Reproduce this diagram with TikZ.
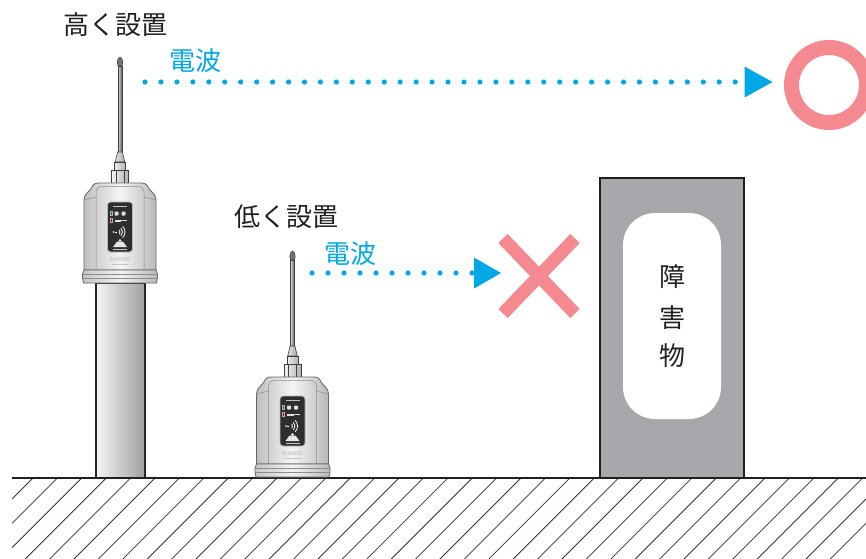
\documentclass[tikz,border=0pt]{standalone}
\usepackage{fontspec}
\setmainfont{Noto Sans CJK JP}
\usetikzlibrary{arrows.meta}

\definecolor{ink}{HTML}{231F20}
\definecolor{radio}{HTML}{00A9E6}
\definecolor{markpink}{HTML}{F48A90}
\definecolor{wallgray}{HTML}{A7A8AB}

\tikzset{
  lbl/.style={font=\fontsize{26}{26}\selectfont, text=ink, inner sep=0pt},
  wavelbl/.style={lbl, text=radio},
  radiolink/.style={draw=radio, line width=5.2pt, line cap=round,
    -{Triangle[length=28pt,width=31pt,line width=0pt]}},
  hatch/.style={draw=black!80, line width=0.8pt},
  metal/.style={draw=black!75, line width=0.6pt},
  shell/.style={draw=black!60, line width=0.8pt},
  seam/.style={draw=black!45, line width=0.5pt},
}

% one radio unit; #1,#2 = centre x and top of the housing, #3 = name prefix
\newcommand{\airunit}[3]{%
\begin{scope}[shift={(#1,#2)}]
  % antenna rod and tip
  \draw[metal, left color=gray!30, right color=black!65] (-1.9,-31) rectangle (1.9,-117);
  \draw[metal, fill=black!55] (-1.9,-117) -- (-2.6,-120)
     .. controls (-2.6,-124) and (-1,-126) .. (0,-126)
     .. controls (1,-126) and (2.6,-124) .. (2.6,-120) -- (1.9,-117) -- cycle;
  % collar and nut
  \draw[metal, left color=gray!20, right color=gray!70] (-2.4,-31) -- (-4.8,-21) -- (4.8,-21) -- (2.4,-31) -- cycle;
  \draw[metal, left color=gray!15, right color=gray!60] (-5.5,-21) rectangle (5.5,-13);
  \draw[metal, left color=gray!10, right color=gray!60] (-8.5,-13) rectangle (8.5,0);
  \draw[metal] (-4,-13) -- (-4,0) (4,-13) -- (4,0);
  % housing
  \draw[shell, left color=gray!50, right color=gray!55, middle color=gray!8]
     (-36,87) -- (-36,17) .. controls (-36,11) and (-31,9) .. (-28.5,5)
     .. controls (-27,1) and (-25,0) .. (-21,0) -- (21,0)
     .. controls (25,0) and (27,1) .. (28.5,5)
     .. controls (31,9) and (36,11) .. (36,17) -- (36,87) -- cycle;
  \draw[seam] (-24,87) -- (-24,9) .. controls (-24,5) and (-21,3.5) .. (-17,3.5)
     -- (17,3.5) .. controls (21,3.5) and (24,5) .. (24,9) -- (24,87);
  \draw[seam] (-36,17) -- (-24,14) (36,17) -- (24,14);
  % base ring
  \draw[shell, left color=gray!45, right color=gray!55, middle color=gray!10]
     (-36,87) -- (36,87) -- (37.5,91) -- (37.5,95) -- (36.5,100) -- (-36.5,100) -- (-37.5,95) -- (-37.5,91) -- cycle;
  \draw[seam] (-37.5,91) -- (37.5,91) (-37.5,95) -- (37.5,95);
  % front panel
  \draw[fill=black!82, draw=gray!55, line width=0.8pt, rounded corners=3pt] (-12.5,19) rectangle (12.5,69);
  \fill[gray!45] (-7,22.5) rectangle (7,23.6);
  \draw[fill=green!55!black, draw=gray!60, line width=0.3pt] (-10,28.5) rectangle (-8,32.5);
  \draw[fill=red!75!black, draw=gray!60, line width=0.3pt] (-10,35.5) rectangle (-8,39.5);
  \fill[gray!25, rounded corners=0.8pt] (-5.5,28.5) rectangle (-1.5,32.5);
  \fill[gray!25, rounded corners=0.8pt] (1.5,28.5) rectangle (5.5,32.5);
  \fill[gray!25] (-5.5,36.5) rectangle (1,38.5);
  \draw[gray!25, line width=0.6pt] (1,37.5) -- (7,37.5);
  \fill[white] (-6.5,49) circle (0.9);
  \draw[white, line width=0.8pt] (-5.5,49) -- (-3.5,49);
  \foreach \r in {3,5.5,8}
    \draw[white, line width=0.8pt] (-3,49) ++(-45:\r) arc[start angle=-45, end angle=45, radius=\r];
  \fill[gray!20] (-7,64) -- (-3,58.5) -- (3,58.5) -- (7,64) -- cycle;
  \fill[white] (0,57.5) circle (1.4);
  \fill[gray!40] (-7,65.5) rectangle (7,66.5);
  % maker mark
  \node[font=\fontsize{5.5}{5.5}\selectfont, text=gray!60, inner sep=0pt] (#3-logo) at (0,76) {AirGRID};
  \fill[gray!45] (-9,80.5) rectangle (9,82);
\end{scope}}

\begin{document}
\begin{tikzpicture}[x=1pt, y=-1pt]
  \useasboundingbox (0,0) rectangle (866,558);
  \clip (0,0) rectangle (866,558);

  % hatched ground
  \begin{scope}
    \clip (12,478) rectangle (866,558);
    \foreach \k in {-4,...,36}
      \draw[hatch] ({33+24.4*\k},478) -- ++(-90,90);
  \end{scope}

  % pole under the high unit
  \draw[line width=2pt, draw=black!85, left color=gray!8, right color=gray!75] (96,283) rectangle (145,478);

  % obstacle
  \draw[fill=wallgray, draw=ink, line width=2.5pt] (600,178) rectangle (744,478);
  \fill[white, rounded corners=32pt] (623,213) rectangle (721,419);
  \node[lbl] (obs1) at (672,277) {障};
  \node[lbl] (obs2) at (672,318) {害};
  \node[lbl] (obs3) at (672,356) {物};

  % ground line
  \draw[line width=2pt, draw=ink] (12,478) -- (866,478);

  % radio units
  \airunit{120}{183}{high}
  \airunit{292.5}{377}{low}

  % labels
  \node[lbl] (hightxt) at (115,24.5) {高く設置};
  \node[wavelbl] (highwave) at (195,61) {電波};
  \node[lbl] (lowtxt) at (286.5,216.5) {低く設置};
  \node[wavelbl] (lowwave) at (350,253.5) {電波};

  % result marks
  \node[circle, draw=markpink, line width=15pt, minimum size=75pt, inner sep=0pt] (okmark) at (829,85) {};
  \coordinate (ngmark) at (539,276);
  \draw[markpink, line width=13pt] (ngmark) ++(-36,-37.5) -- ++(72,75);
  \draw[markpink, line width=13pt] (ngmark) ++(36,-37.5) -- ++(-72,75);

  % radio paths
  \coordinate (w1) at (145,82);
  \coordinate (w2) at (312,273);
  \draw[radiolink, dash pattern=on 0pt off 15.95pt, shorten >=11.5pt] (w1) -- (w1 -| okmark.west);
  \draw[radiolink, dash pattern=on 0pt off 16pt, shorten >=38pt,
        -{Triangle[length=27pt,width=31pt,line width=0pt]}] (w2) -- (w2 -| ngmark);
\end{tikzpicture}
\end{document}
